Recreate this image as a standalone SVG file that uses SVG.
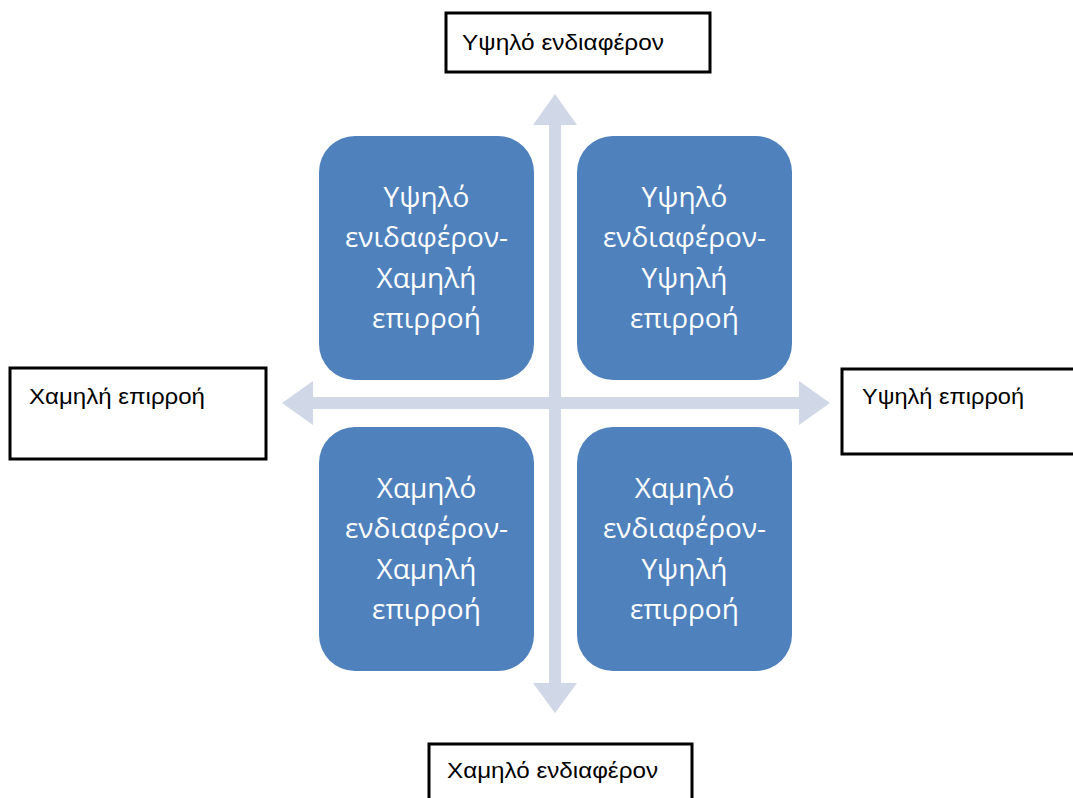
<svg xmlns="http://www.w3.org/2000/svg" width="1073" height="798" viewBox="0 0 1073 798">
  <style>
    .quad { fill: #4F81BD; }
    .qtext { font-family: "Open Sans", "Noto Sans", "DejaVu Sans", sans-serif; font-size: 28px; fill: #FFFFFF; text-anchor: middle; }
    .axisbox { fill: #FFFFFF; stroke: #000000; stroke-width: 3; }
    .label { font-family: "Liberation Sans", Arial, sans-serif; font-size: 22px; fill: #000000; }
    .axis { fill: #D0D8E8; }
  </style>

  <rect width="1073" height="798" fill="#FFFFFF"/>

  <!-- axes (connectors) -->
  <g id="connectors">
    <rect class="axis" x="549" y="120" width="12" height="568"/>
    <rect class="axis" x="307" y="397" width="498" height="12"/>
    <polygon class="axis" points="555,94 577,125 533,125"/>
    <polygon class="axis" points="555,713 577,683 533,683"/>
    <polygon class="axis" points="282,403 313,381 313,425"/>
    <polygon class="axis" points="830,403 799,381 799,425"/>
  </g>

  <!-- axis end labels -->
  <g id="label-top">
    <rect class="axisbox" x="446" y="13" width="264" height="59"/>
    <text class="label" x="462" y="50" textLength="202" lengthAdjust="spacingAndGlyphs">Υψηλό ενδιαφέρον</text>
  </g>
  <g id="label-left">
    <rect class="axisbox" x="10" y="368" width="256" height="91"/>
    <text class="label" x="29" y="404" textLength="176" lengthAdjust="spacingAndGlyphs">Χαμηλή επιρροή</text>
  </g>
  <g id="label-right">
    <rect class="axisbox" x="842" y="369" width="240" height="85"/>
    <text class="label" x="862" y="404" textLength="162" lengthAdjust="spacingAndGlyphs">Υψηλή επιρροή</text>
  </g>
  <g id="label-bottom">
    <rect class="axisbox" x="429" y="744" width="263" height="70"/>
    <text class="label" x="447" y="778" textLength="211" lengthAdjust="spacingAndGlyphs">Χαμηλό ενδιαφέρον</text>
  </g>

  <!-- quadrants -->
  <g id="q-high-interest-low-influence">
    <rect class="quad" x="319" y="136" width="215" height="244" rx="36"/>
    <text class="qtext" x="426.5" y="206.5">Υψηλό</text>
    <text class="qtext" x="426.5" y="247">ενιδαφέρον-</text>
    <text class="qtext" x="426.5" y="287.5">Χαμηλή</text>
    <text class="qtext" x="426.5" y="328">επιρροή</text>
  </g>
  <g id="q-high-interest-high-influence">
    <rect class="quad" x="577" y="136" width="215" height="244" rx="36"/>
    <text class="qtext" x="684.5" y="206.5">Υψηλό</text>
    <text class="qtext" x="684.5" y="247">ενδιαφέρον-</text>
    <text class="qtext" x="684.5" y="287.5">Υψηλή</text>
    <text class="qtext" x="684.5" y="328">επιρροή</text>
  </g>
  <g id="q-low-interest-low-influence">
    <rect class="quad" x="319" y="427" width="215" height="244" rx="36"/>
    <text class="qtext" x="426.5" y="497.5">Χαμηλό</text>
    <text class="qtext" x="426.5" y="538">ενδιαφέρον-</text>
    <text class="qtext" x="426.5" y="578.5">Χαμηλή</text>
    <text class="qtext" x="426.5" y="619">επιρροή</text>
  </g>
  <g id="q-low-interest-high-influence">
    <rect class="quad" x="577" y="427" width="215" height="244" rx="36"/>
    <text class="qtext" x="684.5" y="497.5">Χαμηλό</text>
    <text class="qtext" x="684.5" y="538">ενδιαφέρον-</text>
    <text class="qtext" x="684.5" y="578.5">Υψηλή</text>
    <text class="qtext" x="684.5" y="619">επιρροή</text>
  </g>
</svg>
